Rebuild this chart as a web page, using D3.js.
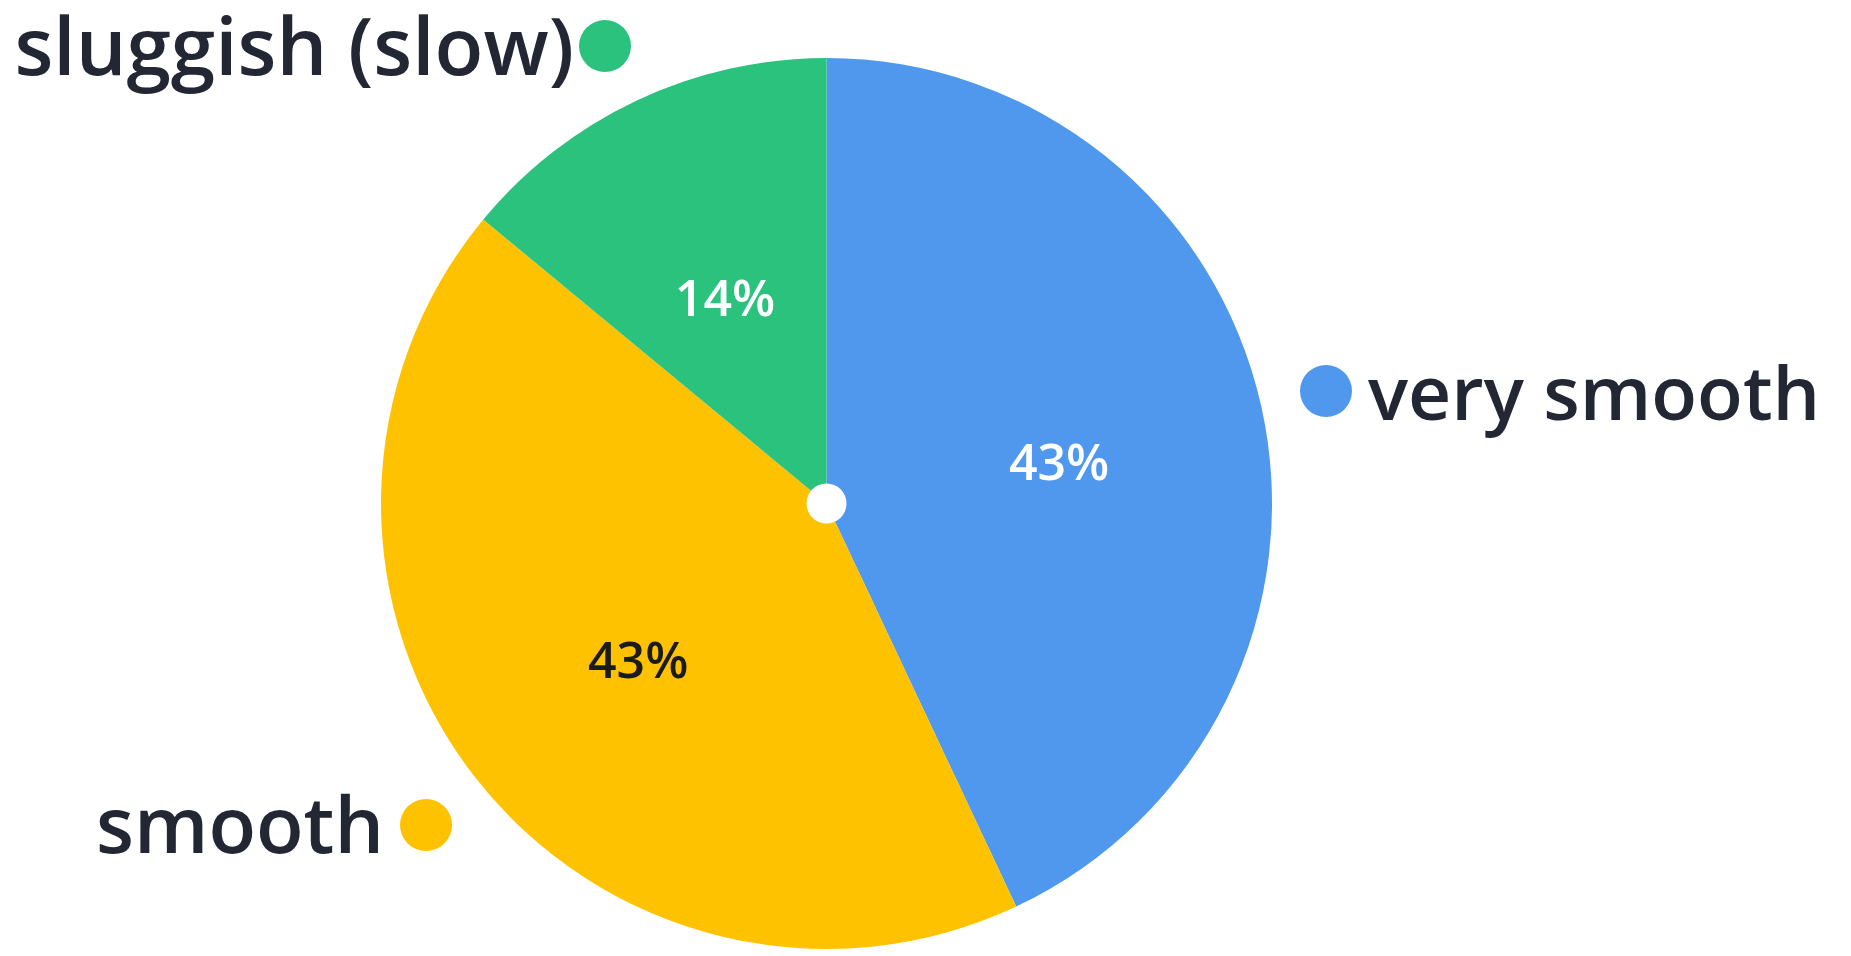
<!DOCTYPE html>
<html>
<head>
<meta charset="utf-8">
<script src="https://cdn.jsdelivr.net/npm/d3@7"></script>
<style>
  html, body { margin: 0; padding: 0; background: #ffffff; }
  svg { display: block; }
</style>
</head>
<body>
<svg id="chart" width="1851" height="956"></svg>
<script>
// ---- data ----
const categories = ["very smooth", "smooth", "sluggish (slow)"];
const values = [43, 43, 14];
const percentLabels = ["43%", "43%", "14%"];
const colors = ["#4F98EE", "#FFC200", "#2BC27E"];
const percentColors = ["#ffffff", "#1b1b1b", "#ffffff"];

// ---- layout ----
const W = 1851, H = 956;
const cx = 826.5, cy = 503.5, R = 445.5;
// outside legend-style labels: text anchor side, text x/baseline, font size, dot position
const outsideLabels = [
  { anchor: "start", tx: 1368, ty: 420, fs: 75, dx: 1326, dy: 391 },
  { anchor: "end",   tx: 384,  ty: 853, fs: 78, dx: 426,  dy: 825 },
  { anchor: "end",   tx: 574,  ty: 75,  fs: 80, dx: 605,  dy: 46 }
];

const svg = d3.select("#chart");
const g = svg.append("g").attr("transform", `translate(${cx},${cy})`);

const pie = d3.pie().sort(null).value(d => d.value);
const arcs = pie(categories.map((c, i) => ({ name: c, value: values[i], i })));

const arc = d3.arc().innerRadius(0).outerRadius(R);
const labelArc = d3.arc().innerRadius(0).outerRadius(R * 1.07);

g.selectAll("path.slice")
  .data(arcs)
  .join("path")
  .attr("class", "slice")
  .attr("d", arc)
  .attr("fill", d => colors[d.data.i]);

g.append("circle").attr("r", 20).attr("fill", "#ffffff");

g.selectAll("text.pct")
  .data(arcs)
  .join("text")
  .attr("class", "pct")
  .attr("x", d => labelArc.centroid(d)[0])
  .attr("y", d => labelArc.centroid(d)[1] + 9)
  .attr("text-anchor", "middle")
  .attr("dominant-baseline", "central")
  .attr("font-family", "'Open Sans', sans-serif")
  .attr("font-weight", 600)
  .attr("font-size", 50)
  .attr("fill", d => percentColors[d.data.i])
  .text(d => percentLabels[d.data.i]);

const lab = svg.append("g");
categories.forEach((c, i) => {
  const L = outsideLabels[i];
  lab.append("circle")
    .attr("cx", L.dx).attr("cy", L.dy).attr("r", 26)
    .attr("fill", colors[i]);
  lab.append("text")
    .attr("x", L.tx).attr("y", L.ty)
    .attr("text-anchor", L.anchor)
    .attr("font-family", "'Open Sans', sans-serif")
    .attr("font-weight", 600)
    .attr("font-size", L.fs)
    .attr("fill", "#232733")
    .text(c);
});
</script>
</body>
</html>
